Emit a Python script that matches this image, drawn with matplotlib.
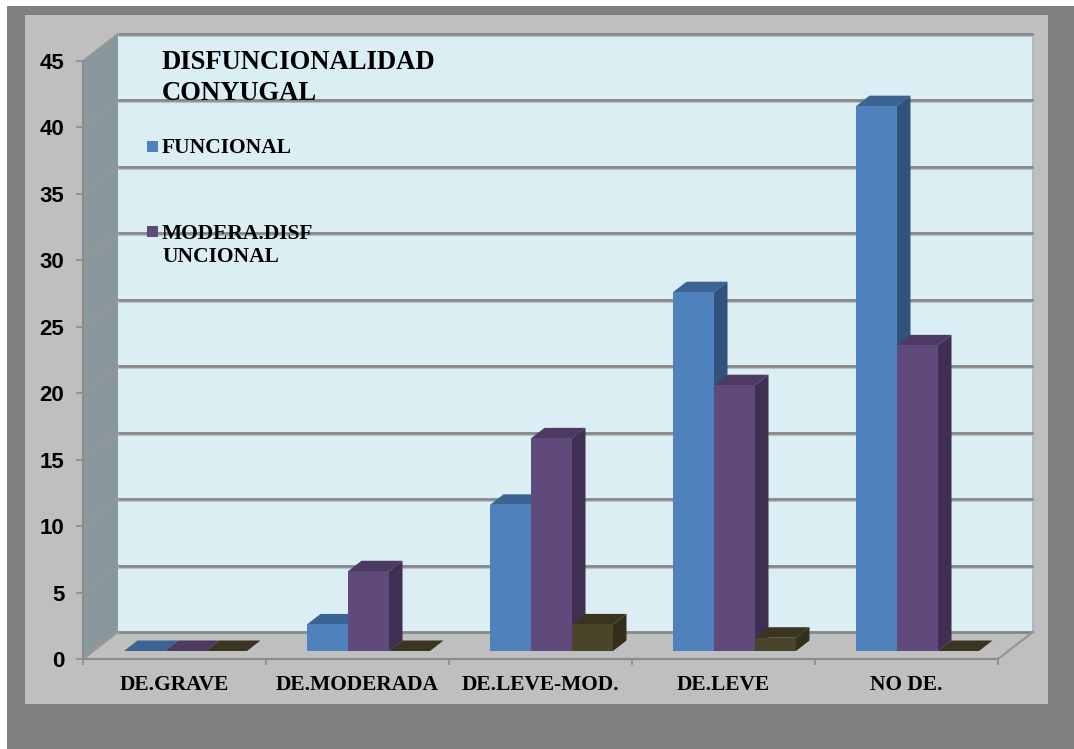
import matplotlib
matplotlib.use('Agg')
import matplotlib.pyplot as plt
from matplotlib.patches import Rectangle

categorias = ['DE.GRAVE', 'DE.MODERADA', 'DE.LEVE-MOD.', 'DE.LEVE', 'NO DE.']
funcional = [0, 2, 11, 27, 41]
moderada = [0, 6, 16, 20, 23]
tercera = [0, 0, 2, 1, 0]
yticks = [0, 5, 10, 15, 20, 25, 30, 35, 40, 45]

titulo = 'DISFUNCIONALIDAD\nCONYUGAL'
leyenda = ['FUNCIONAL', 'MODERA.DISF\nUNCIONAL']

# colores: frente, arriba, costado
c_funcional = ('#4F81BD', '#3B6494', '#31527C')
c_moderada = ('#604A7B', '#4C3A63', '#3F2F52')
c_tercera = ('#4A452A', '#3A3520', '#332E1C')

W, H = 1074, 749
X0, X1 = 83, 998
Y0, Y45 = 659, 61
PX = 5 / (X1 - X0)
PY = 45 / (Y0 - Y45)


def caja(x, y, w, h, color, z=0):
    return Rectangle((x / W, 1 - (y + h) / H), w / W, h / H, transform=fig.transFigure,
                     facecolor=color, edgecolor='none', zorder=z)


def dibujar_barras(ax, valores, colores, pos):
    ancho = 41 * PX
    for i, v in enumerate(valores):
        x = i + (31 + 41 * pos) * PX + 10 * PX
        base = 8 * PY
        dx, dy = 13.5 * PX, 10.5 * PY
        xd = x + ancho
        ax.fill([x, xd, xd + dx, x + dx], [base + v, base + v, base + v + dy, base + v + dy],
                color=colores[1], lw=0, clip_on=False, zorder=5 + pos)
        if v > 0:
            ax.fill([xd, xd + dx, xd + dx, xd], [base, base + dy, base + v + dy, base + v],
                    color=colores[2], lw=0, clip_on=False, zorder=5 + pos)
            ax.bar(x, v, ancho, bottom=base, align='edge', color=colores[0], lw=0,
                   clip_on=False, zorder=5 + pos)


fig = plt.figure(figsize=(W / 100, H / 100), dpi=100, facecolor='white')
fig.add_artist(caja(7, 6, W - 7, H - 6, '#808080', -2))
fig.add_artist(caja(25, 15, 1023, 689, '#BFBFBF', -1))

ax = fig.add_axes([X0 / W, 1 - Y0 / H, (X1 - X0) / W, (Y0 - Y45) / H])
ax.set_xlim(0, 5)
ax.set_ylim(0, 45)
ax.patch.set_visible(False)

fx, fy = 35 * PX, 27 * PY
# pared del fondo y pared izquierda
ax.fill([fx, 5 + fx, 5 + fx, fx], [fy, fy, 45 + fy, 45 + fy], color='#DBEEF4', lw=0, clip_on=False, zorder=1)
ax.plot([5 + fx, 5 + fx], [fy, 45 + fy], color='#A9B4B8', lw=1.2, clip_on=False, zorder=1)
ax.fill([0, fx, fx, 0], [0, fy, 45 + fy, 45], color='#8A989D', lw=0, clip_on=False, zorder=1)
for v in yticks:
    ax.plot([fx, 5 + fx], [v + fy, v + fy], color='#868686', lw=2, clip_on=False, zorder=2,
            solid_capstyle='butt')
    ax.plot([fx, 5 + fx], [v + fy - 2 * PY, v + fy - 2 * PY], color='#B4C4CA', lw=0.8, clip_on=False, zorder=2)
    ax.plot([0, fx], [v, v + fy], color='#969696', lw=1.4, clip_on=False, zorder=2)
ax.plot([5, 5 + fx], [0, fy], color='#969696', lw=1.6, clip_on=False, zorder=2)

dibujar_barras(ax, funcional, c_funcional, 0)
dibujar_barras(ax, moderada, c_moderada, 1)
dibujar_barras(ax, tercera, c_tercera, 2)

for lado in ['top', 'right']:
    ax.spines[lado].set_visible(False)
for lado in ['left', 'bottom']:
    ax.spines[lado].set_color('#8C8C8C')
    ax.spines[lado].set_linewidth(1.6)

ax.set_yticks(yticks)
ax.set_yticklabels([str(v) for v in yticks], family='Liberation Sans', weight='bold', fontsize=16, color='black')
ax.tick_params(axis='y', length=5, width=1.2, color='#8C8C8C', pad=8.5)
ax.set_xticks(range(6))
ax.set_xticklabels([])
ax.tick_params(axis='x', which='major', length=4.5, width=1.2, color='#8C8C8C')
ax.set_xticks([i + 0.5 for i in range(5)], minor=True)
ax.set_xticklabels(categorias, minor=True, family='Liberation Serif', weight='bold', fontsize=15.4)
ax.tick_params(axis='x', which='minor', length=0, pad=11.8)

fig.text(162 / W, 1 - 78 / H, titulo, family='Liberation Serif', weight='bold', fontsize=19.2,
         va='center', ha='left', linespacing=1.3, zorder=10)
fig.text(162 / W, 1 - 148 / H, leyenda[0], family='Liberation Serif', weight='bold', fontsize=15.5,
         va='center', ha='left', zorder=10)
fig.text(162 / W, 1 - 245.5 / H, leyenda[1], family='Liberation Serif', weight='bold', fontsize=15.5,
         va='center', ha='left', linespacing=1.25, zorder=10)
fig.add_artist(caja(147, 141, 11, 11, c_funcional[0], 10))
fig.add_artist(caja(147, 226, 11, 11, c_moderada[0], 10))

fig.savefig('out.png', dpi=100, facecolor='white')
